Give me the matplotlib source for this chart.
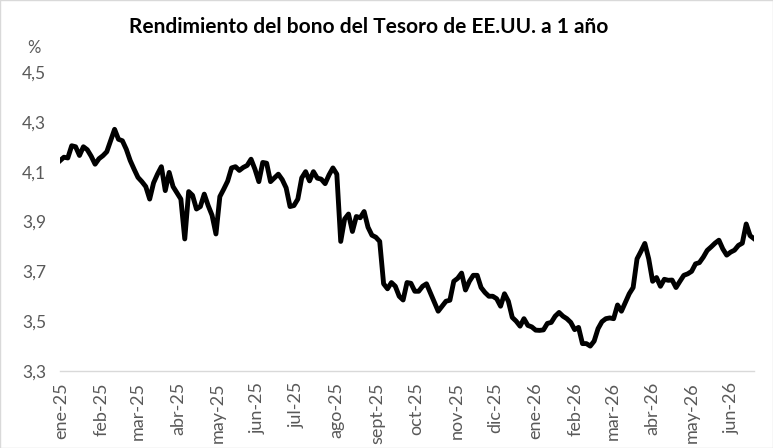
import numpy as np, pandas as pd
import matplotlib
matplotlib.use('Agg')
import matplotlib.pyplot as plt
import matplotlib.dates as mdates
from matplotlib.ticker import FuncFormatter, FixedLocator

plt.rcParams.update({'font.family':['Lato','DejaVu Sans'],'font.size':11})

TITLE='Rendimiento del bono del Tesoro de EE.UU. a 1 año'
START='2024-12-31'   # one reading every 3 days
yields=[4.144,4.158,4.155,4.204,4.200,4.165,4.200,4.188,4.162,4.130,
        4.152,4.164,4.180,4.225,4.270,4.230,4.224,4.190,4.145,4.110,
        4.077,4.060,4.040,3.990,4.055,4.090,4.120,4.024,4.097,4.040,
        4.015,3.990,3.830,4.020,4.005,3.950,3.960,4.010,3.964,3.925,
        3.850,4.000,4.030,4.062,4.115,4.120,4.105,4.117,4.125,4.150,
        4.110,4.060,4.137,4.134,4.060,4.075,4.090,4.068,4.035,3.960,
        3.964,3.990,4.075,4.100,4.063,4.100,4.074,4.070,4.052,4.087,
        4.115,4.090,3.820,3.910,3.930,3.860,3.920,3.915,3.940,3.877,
        3.845,3.837,3.820,3.650,3.630,3.655,3.640,3.600,3.585,3.655,
        3.652,3.620,3.620,3.640,3.650,3.613,3.575,3.540,3.560,3.580,
        3.584,3.660,3.672,3.693,3.625,3.660,3.684,3.684,3.635,3.615,
        3.600,3.600,3.590,3.560,3.610,3.580,3.515,3.500,3.480,3.510,
        3.483,3.477,3.464,3.463,3.465,3.491,3.495,3.520,3.535,3.520,
        3.510,3.495,3.466,3.475,3.410,3.410,3.400,3.420,3.470,3.498,
        3.510,3.513,3.510,3.565,3.540,3.575,3.610,3.635,3.750,3.780,
        3.812,3.750,3.660,3.675,3.640,3.668,3.664,3.665,3.635,3.660,
        3.684,3.690,3.700,3.730,3.735,3.757,3.784,3.798,3.813,3.825,
        3.790,3.765,3.777,3.785,3.804,3.813,3.890,3.843,3.831]
MONTHS=['ene','feb','mar','abr','may','jun','jul','ago','sept','oct','nov','dic']
YTICKS=[3.3,3.5,3.7,3.9,4.1,4.3,4.5]

dates=pd.date_range(START,periods=len(yields),freq='3D')
ticks=pd.date_range('2025-01-01','2026-06-01',freq='MS')
tick_labels=[f'{MONTHS[d.month-1]}-{d.year%100:02d}' for d in ticks]

fig=plt.figure(figsize=(7.73,4.48),dpi=100)
ax=fig.add_axes([60/773,77/448,694/773,299/448])
ax.plot(dates,yields,color='black',lw=3.5,solid_joinstyle='round')
ax.set_xlim(dates[0],dates[-1]); ax.set_ylim(3.3,4.5)
ax.yaxis.set_major_locator(FixedLocator(YTICKS))
ax.yaxis.set_major_formatter(FuncFormatter(lambda v,p:f'{v:.1f}'.replace('.',',')))
ax.set_xticks(mdates.date2num(ticks)); ax.set_xticklabels(tick_labels,rotation=90,va='top',ha='center')
ax.tick_params(axis='both',length=0,colors='#595959')
ax.tick_params(axis='y',pad=10,labelsize=12.5); ax.tick_params(axis='x',pad=8,labelsize=13)
for s in ['top','right','left']: ax.spines[s].set_visible(False)
ax.spines['bottom'].set_color('#d9d9d9'); ax.spines['bottom'].set_linewidth(1)
fig.text(34/773,1-48/448,'%',ha='center',va='center',color='#595959',fontsize=12)
fig.text(369/773,1-27/448,TITLE,ha='center',va='center',fontsize=15,fontweight='bold',color='black')
fig.patches.append(plt.Rectangle((0,0),1,1,transform=fig.transFigure,fill=False,edgecolor='#d9d9d9',lw=1))
fig.savefig('out.png',dpi=100)
